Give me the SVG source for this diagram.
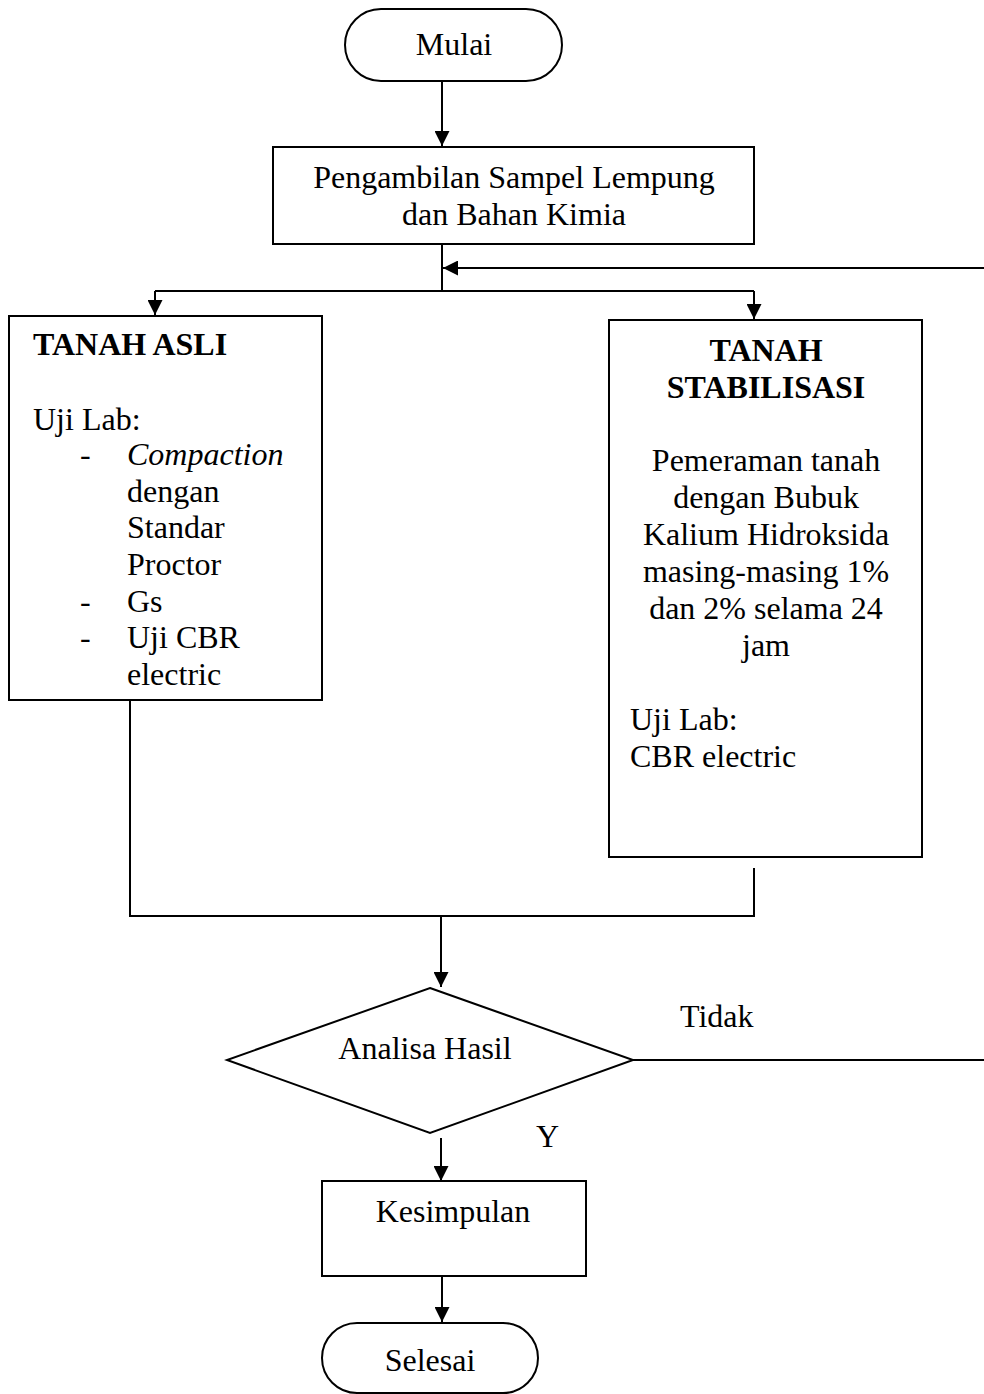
<svg xmlns="http://www.w3.org/2000/svg" width="984" height="1394" viewBox="0 0 984 1394">
<defs>
<style>
text{font-family:"Liberation Serif","Times New Roman",serif;font-size:32px;fill:#000}
.c{text-anchor:middle}
.b{font-weight:bold}
.shape{fill:#fff;stroke:#000;stroke-width:2}
.ln{fill:none;stroke:#000;stroke-width:2}
</style>
<marker id="ah" viewBox="0 0 10 10" refX="10" refY="5" markerWidth="16" markerHeight="15" markerUnits="userSpaceOnUse" orient="auto">
<path d="M0,0 L10,5 L0,10 z" fill="#000"/>
</marker>
</defs>
<rect width="984" height="1394" fill="#fff"/>
<g id="connectors">
<line class="ln" x1="442" y1="81" x2="442" y2="146" marker-end="url(#ah)"/>
<line class="ln" x1="442" y1="244" x2="442" y2="291"/>
<line class="ln" x1="155" y1="291" x2="754" y2="291"/>
<line class="ln" x1="155" y1="291" x2="155" y2="315" marker-end="url(#ah)"/>
<line class="ln" x1="754" y1="291" x2="754" y2="319" marker-end="url(#ah)"/>
<line class="ln" x1="984" y1="268" x2="443" y2="268" marker-end="url(#ah)"/>
<line class="ln" x1="130" y1="700" x2="130" y2="916"/>
<line class="ln" x1="754" y1="868" x2="754" y2="916"/>
<line class="ln" x1="129" y1="916" x2="755" y2="916"/>
<line class="ln" x1="441" y1="916" x2="441" y2="987" marker-end="url(#ah)"/>
<line class="ln" x1="633" y1="1060" x2="984" y2="1060"/>
<line class="ln" x1="441" y1="1138" x2="441" y2="1181" marker-end="url(#ah)"/>
<line class="ln" x1="442" y1="1276" x2="442" y2="1322" marker-end="url(#ah)"/>
<text x="680" y="1027">Tidak</text>
<text x="536" y="1147">Y</text>
</g>
<g id="mulai">
<rect class="shape" x="345" y="9" width="217" height="72" rx="36"/>
<text class="c" x="454" y="55">Mulai</text>
</g>
<g id="pengambilan">
<rect class="shape" x="273" y="147" width="481" height="97"/>
<text class="c" x="514" y="188">Pengambilan Sampel Lempung</text>
<text class="c" x="514" y="225">dan Bahan Kimia</text>
</g>
<g id="tanah-asli">
<rect class="shape" x="9" y="316" width="313" height="384"/>
<text class="b" x="33" y="355">TANAH ASLI</text>
<text x="33" y="430">Uji Lab:</text>
<text x="80" y="465">-</text>
<text x="127" y="465" font-style="italic">Compaction</text>
<text x="127" y="502">dengan</text>
<text x="127" y="538">Standar</text>
<text x="127" y="575">Proctor</text>
<text x="80" y="612">-</text>
<text x="127" y="612">Gs</text>
<text x="80" y="648">-</text>
<text x="127" y="648">Uji CBR</text>
<text x="127" y="685">electric</text>
</g>
<g id="tanah-stabilisasi">
<rect class="shape" x="609" y="320" width="313" height="537"/>
<text class="c b" x="766" y="361">TANAH</text>
<text class="c b" x="766" y="398">STABILISASI</text>
<text class="c" x="766" y="471">Pemeraman tanah</text>
<text class="c" x="766" y="508">dengan Bubuk</text>
<text class="c" x="766" y="545">Kalium Hidroksida</text>
<text class="c" x="766" y="582">masing-masing 1%</text>
<text class="c" x="766" y="619">dan 2% selama 24</text>
<text class="c" x="766" y="656">jam</text>
<text x="630" y="730">Uji Lab:</text>
<text x="630" y="767">CBR electric</text>
</g>
<g id="analisa">
<polygon class="shape" points="430,988 633,1060 430,1133 227,1060"/>
<text class="c" x="425" y="1059" font-size="31">Analisa Hasil</text>
</g>
<g id="kesimpulan">
<rect class="shape" x="322" y="1181" width="264" height="95"/>
<text class="c" x="453" y="1222">Kesimpulan</text>
</g>
<g id="selesai">
<rect class="shape" x="322" y="1323" width="216" height="70" rx="35"/>
<text class="c" x="430" y="1371">Selesai</text>
</g>
</svg>
